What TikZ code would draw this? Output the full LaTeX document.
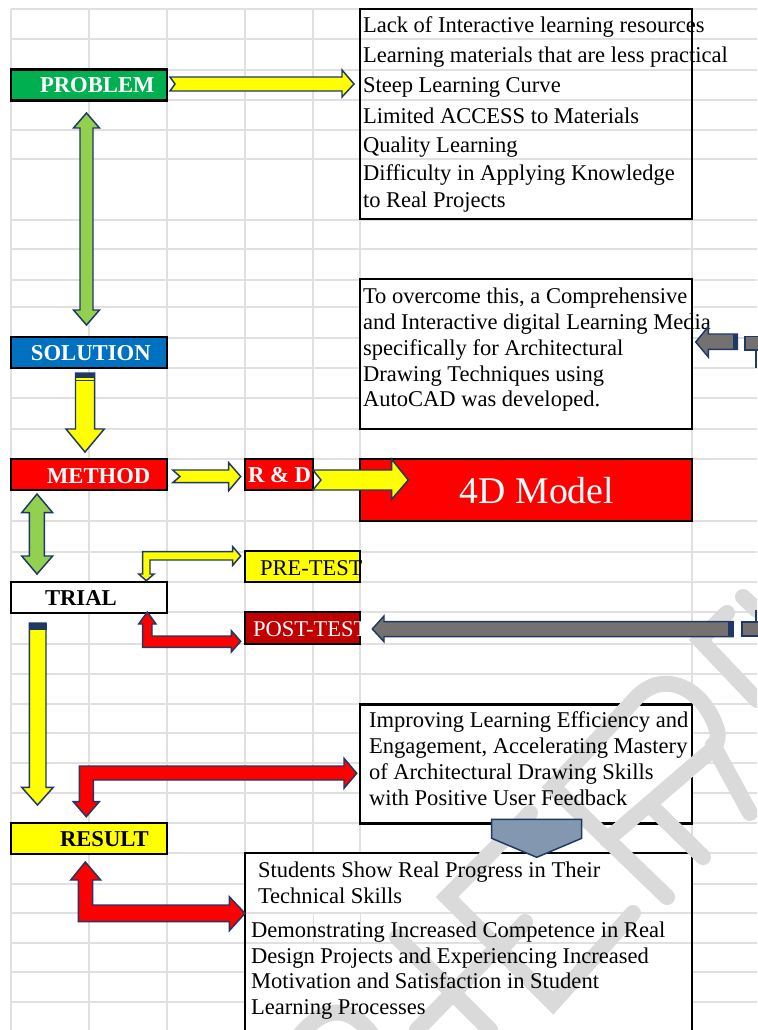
\documentclass[tikz,border=0pt]{standalone}
\usepackage{fontspec}
\setmainfont{Liberation Serif}
\definecolor{gridc}{HTML}{E0E0E0}
\definecolor{wm}{HTML}{DADADA}
\definecolor{navy}{HTML}{1F3864}
\definecolor{grn}{HTML}{00B050}
\definecolor{blu}{HTML}{0070C0}
\definecolor{pred}{HTML}{FF0000}
\definecolor{ylw}{HTML}{FFFF00}
\definecolor{dred}{HTML}{C00000}
\definecolor{lime}{HTML}{92D050}
\definecolor{gry}{HTML}{767171}
\definecolor{slate}{HTML}{8497B0}
\tikzset{
 gridline/.style={draw=gridc,line width=1.1pt},
 wmark/.style={draw=wm,line width=12pt,line join=miter,line cap=round},
 bx/.style={draw=black,line width=1.6pt,inner sep=0pt,outer sep=0pt},
 txt/.style={anchor=base west,inner sep=0pt,outer sep=0pt,yshift=-0.5pt,font=\fontsize{16.9}{17}\selectfont},
 btxt/.style={anchor=base west,inner sep=0pt,outer sep=0pt,yshift=-0.5pt,font=\fontsize{17}{17}\selectfont\bfseries},
 barrow/.style={draw=navy,line width=1.1pt,line join=miter},
}
\newcommand{\pxbox}[6]{\node[bx,fill=#6,minimum width=#4*0.75pt,minimum height=#5*0.75pt] (#1) at (#2,#3) {};}
\begin{document}
\begin{tikzpicture}[x=0.75pt,y=-0.75pt]
\useasboundingbox (0,0) rectangle (757,1030);
\fill[white] (0,0) rectangle (757,1030);
% grid
\foreach \yy in {9,39,70,100,130,159,220,249,280,307,338,368,398,429,459,521,552,582,612,644,674,704,733,763,793,823,853,884,913,943,972,1002}
  \draw[gridline] (11,\yy) -- (757,\yy);
\foreach \xx in {11,89,167,245,313,360,692}
  \draw[gridline] (\xx,9) -- (\xx,1030);
% filled boxes
\pxbox{problem}{89}{85}{156}{31}{grn}
\pxbox{solution}{89}{352.5}{156}{31}{blu}
\pxbox{method}{89}{474.5}{156}{31}{pred}
\pxbox{rd}{279}{474.5}{68}{31}{pred}
\pxbox{model}{526}{490}{332}{62}{pred}
\pxbox{pretest}{302.5}{566.5}{115}{31}{ylw}
\pxbox{posttest}{302.5}{628}{115}{32}{dred}
\pxbox{trial}{89}{597.5}{156}{31}{white}
\pxbox{result}{89}{838.5}{156}{31}{ylw}
\pxbox{overcome}{526}{354}{332}{150}{white}
\pxbox{improve}{526}{764}{332}{119}{white}
\node[bx,minimum width=332*0.75pt,minimum height=210*0.75pt] (lack) at (526,114) {};
\node[bx,fill=white,minimum width=447*0.75pt,minimum height=200*0.75pt] (students) at (468.5,953) {};
\draw[gridline] (246,913) -- (691,913);
\draw[gridline] (246,943) -- (691,943);
\draw[draw=gridc,line width=0.6pt] (313,913) -- (313,943);
\draw[draw=gridc,line width=0.6pt] (360,913) -- (360,943);
% watermark
\begin{scope}
\clip (0,0) rectangle (757,1030);
% E
\draw[wmark] (530,813) -- (447,897) -- (553,1003) -- (633,913);
\draw[wmark] (500,950) -- (525,922);
% R
\draw[wmark] (667,897) -- (553,787) -- (637,697) .. controls (665,668) and (705,690) .. (717,730) .. controls (720,745) and (712,750) .. (700,760) -- (607,840);
\draw[wmark] (652,807) -- (703,857);
\draw[wmark] (713,745) -- (750,813);
% far right
\draw[wmark] (727,613) -- (700,640) -- (757,700);
\draw[wmark] (743,597) -- (757,610);
% lower left
\draw[wmark] (397,937) -- (490,1030);
\draw[wmark] (300,1035) .. controls (325,1005) and (350,1005) .. (372,1035);
\draw[wmark] (417,1030) -- (490,955);
\end{scope}
% texts
\node[btxt,text=white] (tproblem) at (40,91.7) {PROBLEM};
\node[btxt,text=white] (tsolution) at (31,360) {SOLUTION};
\node[btxt,text=white] (tmethod) at (47,482.7) {METHOD};
\node[btxt,text=white] (trd) at (248,481.7) {R \& D};
\node[btxt] (ttrial) at (45,605.3) {TRIAL};
\node[btxt] (tresult) at (60,846) {RESULT};
\node[anchor=base,inner sep=0pt,text=white,font=\fontsize{28.3}{28.5}\selectfont] (tmodel) at (537,503.2) {4D Model};
\begin{scope}
\clip (245,545) rectangle (361,650);
\node[txt] (tpre) at (260,575) {PRE-TEST};
\node[txt,text=white] (tpost) at (253,635.7) {POST-TEST};
\end{scope}
\node[txt] (l1) at (363,31.7) {Lack of Interactive learning resources};
\node[txt] (l2) at (363,61.7) {Learning materials that are less practical};
\node[txt] (l3) at (363,91.7) {Steep Learning Curve};
\node[txt] (l4) at (363,122.7) {Limited ACCESS to Materials};
\node[txt] (l5) at (363,151.7) {Quality Learning};
\node[txt] (l6) at (363,180) {Difficulty in Applying Knowledge};
\node[txt] (l7) at (363,206.7) {to Real Projects};
\node[txt] (o1) at (363,303) {To overcome this, a Comprehensive};
\node[txt] (o2) at (363,329) {and Interactive digital Learning Media};
\node[txt] (o3) at (363,355) {specifically for Architectural};
\node[txt] (o4) at (363,380.7) {Drawing Techniques using};
\node[txt] (o5) at (363,406) {AutoCAD was developed.};
\node[txt] (i1) at (369,726.7) {Improving Learning Efficiency and};
\node[txt] (i2) at (369,752.7) {Engagement, Accelerating Mastery};
\node[txt] (i3) at (369,779) {of Architectural Drawing Skills};
\node[txt] (i4) at (369,805) {with Positive User Feedback};
\node[txt] (s1) at (258,876.7) {Students Show Real Progress in Their};
\node[txt] (s2) at (258,902.7) {Technical Skills};
\node[txt] (s3) at (251,936.7) {Demonstrating Increased Competence in Real};
\node[txt] (s4) at (251,962.7) {Design Projects and Experiencing Increased};
\node[txt] (s5) at (251,988.3) {Motivation and Satisfaction in Student};
\node[txt] (s6) at (251,1014) {Learning Processes};
% block arrows
\draw[barrow,fill=ylw] (170,77) -- (342,77) -- (342,70) -- (354,84) -- (342,97) -- (342,91) -- (170,91) -- (175,84) -- cycle;
\draw[barrow,fill=lime] (86.5,113) -- (99.5,128) -- (93,128) -- (93,310) -- (99.5,310) -- (86.5,325) -- (73.5,310) -- (80,310) -- (80,128) -- (73.5,128) -- cycle;
\draw[barrow,fill=ylw] (75.5,373) -- (94.7,373) -- (94.7,429) -- (104.3,429) -- (85,452) -- (66,429) -- (75.5,429) -- cycle;
\fill[navy] (75,372.5) rectangle (95.2,378);
\fill[navy] (75,379.5) rectangle (95.2,381);
\draw[barrow,fill=ylw] (172.7,470) -- (228.7,470) -- (228.7,462.7) -- (240.7,476.5) -- (228.7,490.7) -- (228.7,482.7) -- (172.7,482.7) -- (180,476.5) -- cycle;
\draw[barrow,fill=ylw] (313,470) -- (391.7,470) -- (391.7,459.3) -- (408.3,480) -- (391.7,499.3) -- (391.7,490) -- (313,490) -- (321,480) -- cycle;
\draw[barrow,fill=lime] (37,494) -- (52.7,512.7) -- (44.3,512.7) -- (44.3,556) -- (52.7,556) -- (37,574) -- (21.7,556) -- (29.3,556) -- (29.3,512.7) -- (21.7,512.7) -- cycle;
\draw[barrow,fill=ylw] (240.7,556) -- (232.7,546.7) -- (232.7,551.7) -- (142.7,551.7) -- (142.7,574) -- (138.7,574) -- (146.3,580.7) -- (154,574) -- (150,574) -- (150,560) -- (232.7,560) -- (232.7,565.3) -- cycle;
\draw[barrow,fill=pred] (147.3,612) -- (156,624) -- (152,624) -- (152,636) -- (231.3,636) -- (231.3,630.7) -- (240.7,641.3) -- (231.3,652) -- (231.3,647.3) -- (142.7,647.3) -- (142.7,624) -- (138.7,624) -- cycle;
\draw[barrow,fill=gry] (372.3,629) -- (384,616) -- (384,621.7) -- (733,621.7) -- (733,636.7) -- (384,636.7) -- (384,641.7) -- cycle;
\fill[navy] (728,621.2) rectangle (733.5,637.2);
\draw[barrow,fill=gry] (757.5,622) -- (742,622) -- (742,636) -- (757.5,636);
\draw[barrow] (756,610) -- (756,622);
\draw[barrow,fill=gry] (695.7,342) -- (708.3,326.7) -- (708.3,334) -- (737.3,334) -- (737.3,349.3) -- (708.3,349.3) -- (708.3,357) -- cycle;
\fill[navy] (733,333.5) rectangle (737.8,349.8);
\draw[barrow,fill=gry] (757.5,336.7) -- (745,336.7) -- (745,350) -- (757.5,350);
\draw[barrow] (756,350) -- (756,368);
\draw[barrow,fill=ylw] (29.3,623) -- (46,623) -- (46,787.3) -- (53.3,787.3) -- (37.5,805) -- (21.7,787.3) -- (29.3,787.3) -- cycle;
\fill[navy] (28.8,622.5) rectangle (46.5,630);
\draw[barrow,fill=pred] (356.7,773.3) -- (344,758.3) -- (344,766) -- (79.3,766) -- (79.3,801.7) -- (73.3,801.7) -- (86.3,816.7) -- (99.3,801.7) -- (93.3,801.7) -- (93.3,780) -- (344,780) -- (344,788.3) -- cycle;
\draw[barrow,fill=pred] (85.3,862) -- (100.7,880) -- (92.7,880) -- (92.7,905) -- (229.3,905) -- (229.3,896.7) -- (245,913.3) -- (229.3,930.7) -- (229.3,921.7) -- (78.3,921.7) -- (78.3,880) -- (70.7,880) -- cycle;
\draw[barrow,fill=slate] (491.7,819.3) -- (581.7,819.3) -- (581.7,838.3) -- (536.7,857.3) -- (491.7,838.3) -- cycle;
\end{tikzpicture}
\end{document}
